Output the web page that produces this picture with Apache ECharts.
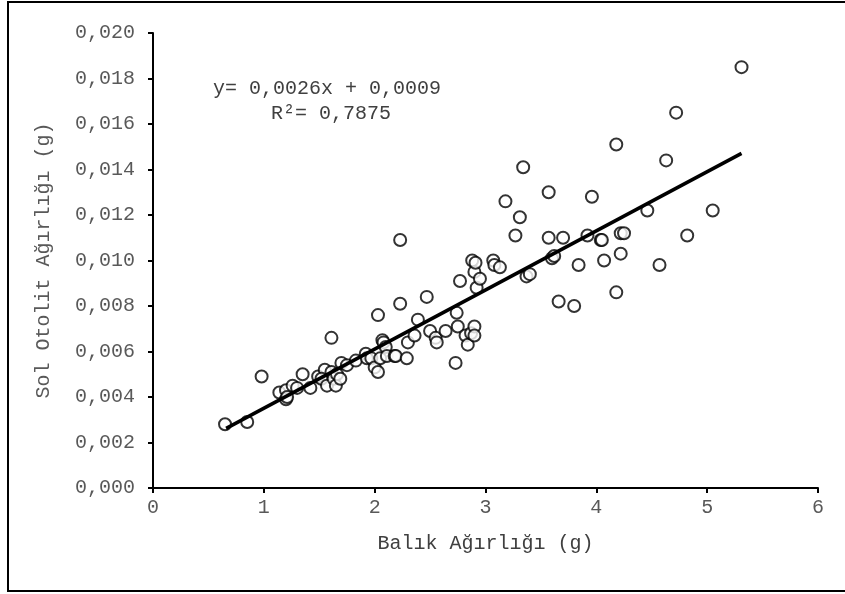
<!DOCTYPE html>
<html>
<head>
    <meta charset="utf-8">
    <script src="https://cdn.jsdelivr.net/npm/echarts@6/dist/echarts.min.js"></script>
</head>
<body style="margin:0">
<div id="main" style="width: 845px;height:594px"></div>

<script type="text/javascript">
    // balik agirligi (g)
    var balikAgirligi = [
        0.65, 0.85, 0.98, 1.14, 1.20, 1.20, 1.21, 1.26, 1.30, 1.35,
        1.42, 1.49, 1.55, 1.52, 1.57, 1.61, 1.61, 1.63, 1.65, 1.66,
        1.69, 1.70, 1.75, 1.83, 1.92, 1.93, 1.97, 2.00, 2.03, 2.03,
        2.05, 2.07, 2.08, 2.10, 2.11, 2.18, 2.19, 2.23, 2.23, 2.29,
        2.30, 2.36, 2.39, 2.47, 2.50, 2.55, 2.56, 2.64, 2.73, 2.74,
        2.75, 2.77, 2.82, 2.84, 2.87, 2.88, 2.90, 2.90, 2.90, 2.91,
        2.92, 2.95, 3.07, 3.08, 3.13, 3.18, 3.27, 3.31, 3.34, 3.37,
        3.40, 3.57, 3.57, 3.60, 3.62, 3.66, 3.70, 3.80, 3.84, 3.92,
        3.96, 4.04, 4.05, 4.07, 4.18, 4.18, 4.22, 4.22, 4.25, 4.46,
        4.57, 4.63, 4.72, 4.82, 5.05, 5.31
    ];
    // sol otolit agirligi (g)
    var otolitAgirligi = [
        0.0028, 0.0029, 0.0049, 0.0042, 0.0043, 0.0039, 0.0040, 0.0045, 0.0044, 0.0050,
        0.0044, 0.0049, 0.0052, 0.0048, 0.0045, 0.0066, 0.0051, 0.0048, 0.0045, 0.0050,
        0.0048, 0.0055, 0.0054, 0.0056, 0.0059, 0.0057, 0.0057, 0.0053, 0.0051, 0.0076,
        0.0057, 0.0065, 0.0064, 0.0062, 0.0058, 0.0058, 0.0058, 0.0109, 0.0081, 0.0057,
        0.0064, 0.0067, 0.0074, 0.0084, 0.0069, 0.0066, 0.0064, 0.0069, 0.0055, 0.0077,
        0.0071, 0.0091, 0.0067, 0.0063, 0.0068, 0.0100, 0.0071, 0.0067, 0.0095, 0.0099,
        0.0088, 0.0092, 0.0100, 0.0098, 0.0097, 0.0126, 0.0111, 0.0119, 0.0141, 0.0093,
        0.0094, 0.0130, 0.0110, 0.0101, 0.0102, 0.0082, 0.0110, 0.0080, 0.0098, 0.0111,
        0.0128, 0.0109, 0.0109, 0.0100, 0.0151, 0.0086, 0.0112, 0.0103, 0.0112, 0.0122,
        0.0098, 0.0144, 0.0165, 0.0111, 0.0122, 0.0185
    ];
    // dogrusal egilim cizgisi uclari
    var trendX = [0.66, 5.31];
    var trendY = [0.00262, 0.01471];

    var xTicks = ['0', '1', '2', '3', '4', '5', '6'];
    var yTicks = ['0,000', '0,002', '0,004', '0,006', '0,008', '0,010',
                  '0,012', '0,014', '0,016', '0,018', '0,020'];

    var font = '"Courier New", "Liberation Mono", monospace';

    var noktalar = balikAgirligi.map(function (x, i) { return [x, otolitAgirligi[i]]; });
    var trend = trendX.map(function (x, i) { return [x, trendY[i]]; });

    var chartDom = document.getElementById('main');
    var myChart = echarts.init(chartDom);
    var option;

    option = {
        backgroundColor: '#fff',
        animation: false,
        grid: { left: 153, right: 27, top: 33, bottom: 106 },
        xAxis: {
            type: 'value',
            min: 0, max: 6, interval: 1,
            name: 'Balık Ağırlığı (g)',
            nameLocation: 'middle',
            nameGap: 46,
            nameTextStyle: { fontFamily: font, fontSize: 20, color: '#404040' },
            axisLine: { lineStyle: { color: '#000', width: 2 } },
            axisTick: { inside: false, length: 5, lineStyle: { color: '#000', width: 2 } },
            axisLabel: {
                fontFamily: font, fontSize: 20, color: '#595959', margin: 10,
                formatter: function (v) { return xTicks[Math.round(v)]; }
            },
            splitLine: { show: false }
        },
        yAxis: {
            type: 'value',
            min: 0, max: 0.02, interval: 0.002,
            name: 'Sol Otolit Ağırlığı (g)',
            nameLocation: 'middle',
            nameGap: 99,
            nameTextStyle: { fontFamily: font, fontSize: 20, color: '#595959' },
            axisLine: { lineStyle: { color: '#000', width: 2 } },
            axisTick: { length: 5, lineStyle: { color: '#000', width: 2 } },
            axisLabel: {
                fontFamily: font, fontSize: 20, color: '#595959', margin: 18,
                formatter: function (v) { return yTicks[Math.round(v / 0.002)]; }
            },
            splitLine: { show: false }
        },
        graphic: [
            {
                type: 'rect',
                shape: { x: 8, y: 2, width: 860, height: 589 },
                style: { fill: 'none', stroke: '#000', lineWidth: 2 },
                silent: true
            },
            {
                type: 'text', left: 213, top: 79,
                style: { text: 'y= 0,0026x + 0,0009', font: '20px ' + font, fill: '#404040' }
            },
            {
                type: 'text', left: 271, top: 104,
                style: { text: 'R²= 0,7875', font: '20px ' + font, fill: '#404040' }
            }
        ],
        series: [
            {
                name: 'noktalar',
                type: 'scatter',
                symbol: 'circle',
                symbolSize: 12,
                itemStyle: { color: '#fff', borderColor: '#000', borderWidth: 2 },
                data: noktalar,
                z: 2
            },
            {
                name: 'trend',
                type: 'line',
                symbol: 'none',
                lineStyle: { color: '#000', width: 3.5 },
                data: trend,
                z: 3
            }
        ]
    };

    option && myChart.setOption(option);
</script>
</body>
</html>
